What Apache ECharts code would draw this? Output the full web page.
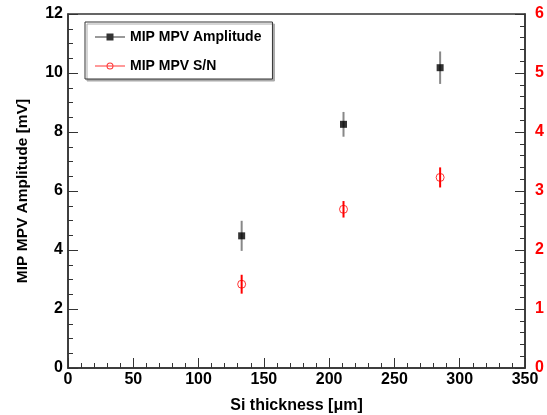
<!DOCTYPE html>
<html>
<head>
<meta charset="utf-8">
<script src="https://cdn.jsdelivr.net/npm/echarts@6/dist/echarts.min.js"></script>
<style>
  html, body { margin: 0; padding: 0; background: #fff; }
  #chart { width: 547px; height: 415px; }
</style>
</head>
<body>
<div id="chart"></div>
<script>
// Si thickness [um] and measured values
const thickness = [133, 211, 285];
const amplitude = [4.48, 8.26, 10.18];
const amplitudeErr = [0.51, 0.42, 0.55];
const snr = [1.42, 2.69, 3.23];
const snrErr = [0.16, 0.14, 0.17];

const FONT = "Liberation Sans";
const chart = echarts.init(document.getElementById("chart"));

// vertical error bar drawn through the axis scales
const errorBars = (xs, ys, errs, color, yAxisIndex) => ({
  type: "custom",
  yAxisIndex: yAxisIndex,
  silent: true,
  z: 1,
  data: xs.map((x, i) => [x, ys[i] - errs[i], ys[i] + errs[i]]),
  renderItem: (params, api) => {
    const lo = api.coord([api.value(0), api.value(1)]);
    const hi = api.coord([api.value(0), api.value(2)]);
    return {
      type: "line",
      shape: { x1: lo[0], y1: lo[1], x2: hi[0], y2: hi[1] },
      style: { stroke: color, lineWidth: 2 },
    };
  },
});

const tickLabel = { fontFamily: FONT, fontWeight: "bold", fontSize: 16, color: "#000" };
const axisLine = { show: true, lineStyle: { color: "#333", width: 1.5 } };

const option = {
  animation: false,
  grid: {
    left: 68, right: 22, top: 14, bottom: 47,
    outerBoundsMode: "none",
    containLabel: false,
    show: true, borderColor: "#333", borderWidth: 1.5,
  },
  legend: {
    orient: "vertical",
    left: 85, top: 22,
    padding: [8, 11, 6, 10],
    itemGap: 15,
    itemWidth: 30, itemHeight: 7,
    borderColor: "#333", borderWidth: 1,
    backgroundColor: "#fff",
    shadowColor: "#aaa", shadowBlur: 0, shadowOffsetX: 2, shadowOffsetY: 2,
    textStyle: { fontFamily: FONT, fontWeight: "bold", fontSize: 14, color: "#000" },
    data: [
      {
        name: "MIP MPV Amplitude",
        icon: "path://M0,3H30V4H0Z M11.5,0H18.5V7H11.5Z",
        itemStyle: { color: "#000", borderWidth: 0 },
      },
      {
        name: "MIP MPV S/N",
        icon: "path://M0,3H30V4H0Z M15,0A3.5,3.5 0 1,1 15,7A3.5,3.5 0 1,1 15,0Z M15,1A2.5,2.5 0 1,0 15,6A2.5,2.5 0 1,0 15,1Z",
        itemStyle: { color: "#f00", borderWidth: 0 },
      },
    ],
  },
  xAxis: {
    type: "value",
    min: 0, max: 350, interval: 50,
    name: "Si thickness [\u03bcm]",
    nameLocation: "middle",
    nameGap: 30,
    nameTextStyle: { fontFamily: FONT, fontWeight: "bold", fontSize: 16, color: "#000" },
    axisLine: axisLine,
    axisTick: { inside: true, length: 10, lineStyle: { color: "#333" } },
    minorTick: { show: true, splitNumber: 5, length: 5, lineStyle: { color: "#333" } },
    splitLine: { show: false },
    axisLabel: Object.assign({ margin: 4 }, tickLabel),
  },
  yAxis: [
    {
      type: "value",
      min: 0, max: 12, interval: 2,
      name: "MIP MPV Amplitude [mV]",
      nameLocation: "middle",
      nameGap: 37,
      nameTextStyle: { fontFamily: FONT, fontWeight: "bold", fontSize: 15.5, color: "#000" },
      axisLine: axisLine,
      axisTick: { inside: true, length: 10, lineStyle: { color: "#333" } },
      minorTick: { show: true, splitNumber: 4, length: 5, lineStyle: { color: "#333" } },
      splitLine: { show: false },
      axisLabel: Object.assign({ margin: 5 }, tickLabel),
    },
    {
      type: "value",
      position: "right",
      min: 0, max: 6, interval: 1,
      axisLine: axisLine,
      axisTick: { inside: true, length: 10, lineStyle: { color: "#333" } },
      minorTick: { show: true, splitNumber: 5, length: 5, lineStyle: { color: "#333" } },
      splitLine: { show: false },
      axisLabel: Object.assign({}, tickLabel, { color: "#f00", margin: 10 }),
    },
  ],
  series: [
    errorBars(thickness, amplitude, amplitudeErr, "#888", 0),
    errorBars(thickness, snr, snrErr, "#f00", 1),
    {
      name: "MIP MPV Amplitude",
      type: "scatter",
      yAxisIndex: 0,
      symbol: "rect",
      symbolSize: 7,
      itemStyle: { color: "#000" },
      z: 3,
      data: thickness.map((x, i) => [x, amplitude[i]]),
    },
    {
      name: "MIP MPV S/N",
      type: "scatter",
      yAxisIndex: 1,
      symbol: "circle",
      symbolSize: 8,
      itemStyle: { color: "rgba(255,255,255,0)", borderColor: "#f00", borderWidth: 1 },
      z: 3,
      data: thickness.map((x, i) => [x, snr[i]]),
    },
  ],
};

chart.setOption(option);
</script>
</body>
</html>
